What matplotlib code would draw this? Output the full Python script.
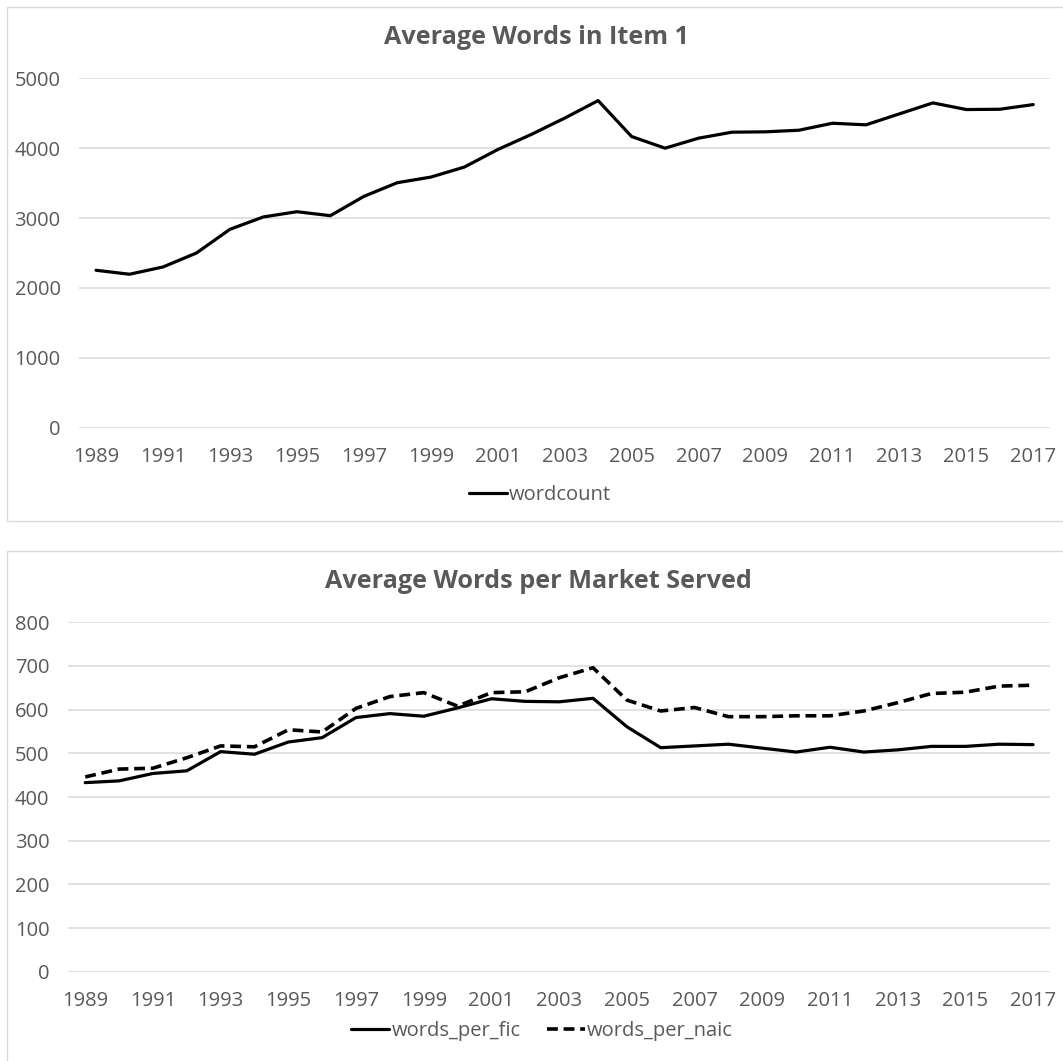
import matplotlib
matplotlib.use("Agg")
import matplotlib.pyplot as plt
from matplotlib.patches import Rectangle

plt.rcParams['font.family'] = ['Open Sans', 'DejaVu Sans']

years = list(range(1989, 2018))
wordcount = [2253, 2196, 2300, 2500, 2839, 3016, 3091, 3034, 3310, 3506,
             3586, 3729, 3980, 4196, 4430, 4681, 4167, 4000, 4143, 4229,
             4234, 4257, 4357, 4334, 4491, 4648, 4553, 4557, 4624]
words_per_fic = [433, 437, 454, 460, 504, 498, 526, 536, 582, 591,
                 585, 604, 625, 619, 618, 626, 561, 513, 517, 521,
                 512, 503, 514, 503, 508, 516, 516, 521, 520]
words_per_naic = [446, 464, 466, 490, 517, 515, 554, 549, 603, 630,
                  639, 608, 639, 641, 673, 696, 622, 597, 605, 584,
                  584, 586, 586, 597, 616, 637, 640, 654, 656]
xtick_years = years[::2]

GRAY = '#595959'
GRID = '#d9d9d9'
W, H = 1063, 1061
TICK_FS = 14.5
TITLE_FS = 18.2

fig = plt.figure(figsize=(W / 100, H / 100), dpi=100)

def box(x0, y0, x1, y1):
    r = Rectangle((x0 / W, 1 - y1 / H), (x1 - x0) / W, (y1 - y0) / H,
                  transform=fig.transFigure, fill=False, edgecolor=GRID,
                  linewidth=1.0, zorder=0)
    fig.add_artist(r)

box(7, 7, 1080, 521)
box(7, 551, 1080, 1080)

def make_axes(left_px, right_px, top_px, bottom_px):
    return fig.add_axes([left_px / W, 1 - bottom_px / H,
                         (right_px - left_px) / W, (bottom_px - top_px) / H])

def style(ax, ymax, step):
    ax.set_xlim(years[0] - 0.5, years[-1] + 0.5)
    ax.set_ylim(0, ymax)
    ax.set_yticks(range(0, ymax + 1, step))
    ax.set_xticks(xtick_years)
    ax.set_xticklabels([str(y) for y in xtick_years])
    for s in ax.spines.values():
        s.set_visible(False)
    ax.grid(axis='y', color=GRID, linewidth=1.1)
    ax.set_axisbelow(True)
    ax.tick_params(axis='both', length=0, labelsize=TICK_FS, labelcolor=GRAY)
    ax.tick_params(axis='y', pad=13.5)
    ax.tick_params(axis='x', pad=14.0)

# Top chart
ax1 = make_axes(79.3, 1050, 78.3, 427.7)
style(ax1, 5000, 1000)
ax1.plot(years, wordcount, color='black', linewidth=2.3,
         solid_joinstyle='round', solid_capstyle='round', label='wordcount')
fig.text(537 / W, 1 - 38 / H, 'Average Words in Item 1', ha='center', va='center',
         fontsize=TITLE_FS, fontweight='bold', color=GRAY)
fig.legend(*ax1.get_legend_handles_labels(), loc='center',
           bbox_to_anchor=(540 / W, 1 - 495 / H), frameon=False, fontsize=TICK_FS,
           labelcolor=GRAY, handlelength=1.9, handletextpad=0.1)

# Bottom chart
ax2 = make_axes(68.3, 1050, 622.3, 971.8)
style(ax2, 800, 100)
ax2.plot(years, words_per_fic, color='black', linewidth=2.3,
         solid_joinstyle='round', solid_capstyle='round', label='words_per_fic')
ax2.plot(years, words_per_naic, color='black', linewidth=2.6,
         linestyle=(0, (3.0, 1.6)), dash_capstyle='butt', dash_joinstyle='round',
         label='words_per_naic')
fig.text(538 / W, 1 - 582 / H, 'Average Words per Market Served', ha='center',
         va='center', fontsize=TITLE_FS, fontweight='bold', color=GRAY)
fig.legend(*ax2.get_legend_handles_labels(), loc='center',
           bbox_to_anchor=(542 / W, 1 - 1031 / H), frameon=False, fontsize=TICK_FS,
           labelcolor=GRAY, handlelength=1.9, handletextpad=0.1, ncol=2,
           columnspacing=1.3)

fig.savefig('out.png', dpi=100)
